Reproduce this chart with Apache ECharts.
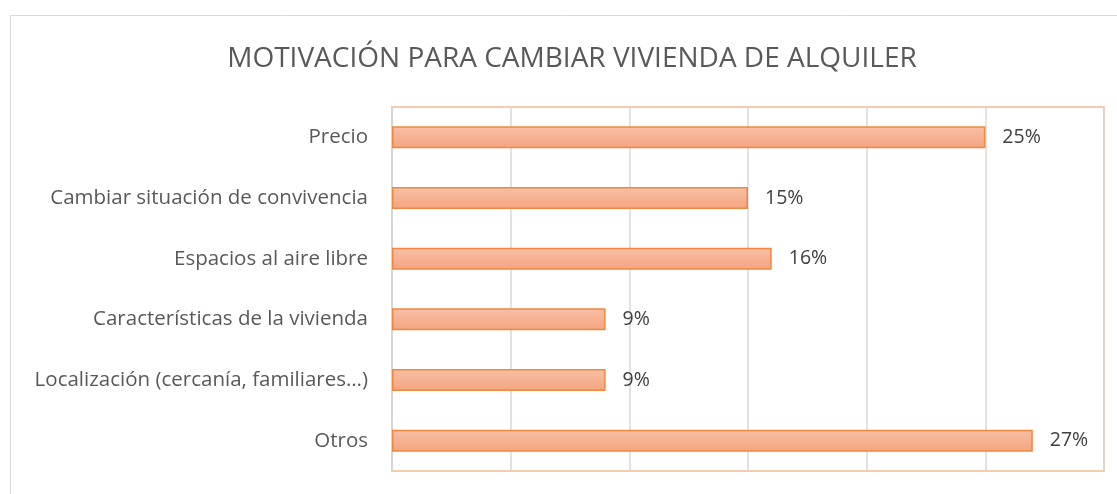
<!DOCTYPE html>
<html>
<head>
<meta charset="utf-8">
<script src="https://cdn.jsdelivr.net/npm/echarts@6/dist/echarts.min.js"></script>
<style>
html, body { margin: 0; padding: 0; background: #fff; }
#container { width: 1117px; height: 494px; }
</style>
</head>
<body>
<div id="container"></div>
<script>
var chart_title = 'MOTIVACIÓN PARA CAMBIAR VIVIENDA DE ALQUILER';
var categories = ['Precio', 'Cambiar situación de convivencia', 'Espacios al aire libre',
    'Características de la vivienda', 'Localización (cercanía, familiares…)', 'Otros'];
var values = [25, 15, 16, 9, 9, 27];

var dom = document.getElementById('container');
var myChart = echarts.init(dom);
var labelFont = '"Open Sans", "Liberation Sans", sans-serif';

var option = {
    animation: false,
    backgroundColor: '#fff',
    title: {
        text: chart_title,
        left: 567,
        textAlign: 'center',
        top: 40,
        textStyle: {
            fontFamily: labelFont,
            fontWeight: 'normal',
            fontSize: 28,
            color: '#595959'
        }
    },
    graphic: [{
        type: 'rect',
        shape: {x: 10.5, y: 15.5, width: 1200, height: 600},
        style: {fill: 'none', stroke: '#d9d9d9', lineWidth: 1},
        silent: true,
        z: -1
    }],
    grid: {
        left: 392,
        right: 13,
        top: 107,
        bottom: 23,
        show: true,
        borderColor: '#f8cbad',
        borderWidth: 2
    },
    xAxis: {
        type: 'value',
        min: 0,
        max: 30,
        interval: 5,
        axisLabel: {show: false},
        axisLine: {show: false},
        axisTick: {show: false},
        splitLine: {lineStyle: {color: '#d9d9d9', width: 1.5}}
    },
    yAxis: {
        type: 'category',
        data: categories,
        inverse: true,
        axisTick: {show: false},
        axisLine: {lineStyle: {color: '#d9d5d1', width: 2}},
        axisLabel: {
            fontFamily: labelFont,
            fontSize: 20.5,
            color: '#595959',
            margin: 24
        }
    },
    series: [{
        type: 'bar',
        data: values,
        barWidth: 22,
        itemStyle: {
            color: new echarts.graphic.LinearGradient(0, 0, 0, 1, [
                {offset: 0, color: '#f8c0a6'},
                {offset: 1, color: '#f4a47f'}
            ]),
            borderColor: '#f0883f',
            borderWidth: 1.5
        },
        label: {
            show: true,
            position: 'right',
            distance: 17,
            formatter: '{c}%',
            fontFamily: labelFont,
            fontSize: 19.5,
            color: '#404040'
        }
    }]
};
myChart.setOption(option, true);
</script>
</body>
</html>
